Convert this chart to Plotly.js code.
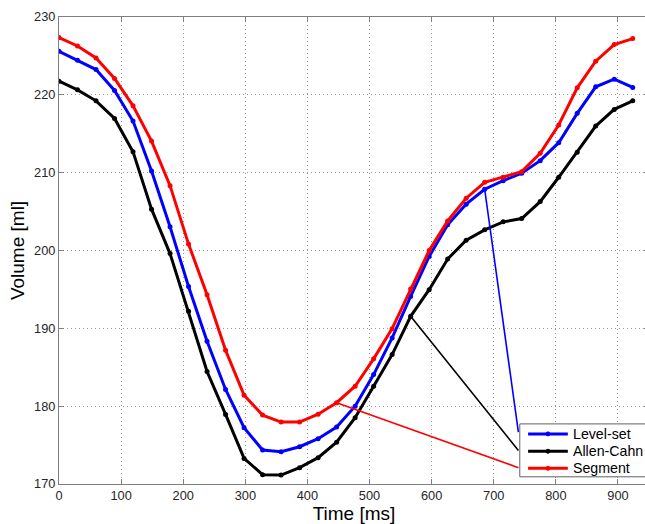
<!DOCTYPE html>
<html>
<head>
<meta charset="utf-8">
<script src="https://cdn.plot.ly/plotly-3.0.1.min.js"></script>
<style>
html, body { margin: 0; padding: 0; overflow: hidden; background: #fff; }
#chart { width: 660px; height: 524px; }
</style>
</head>
<body>
<div id="chart"></div>
<script>
// Time axis (ms)
var timeMs = [0, 29.8, 59.6, 89.4, 119.2, 149, 178.8, 208.6, 238.4, 268.2, 298, 327.8,
  357.6, 387.4, 417.2, 447, 476.8, 506.6, 536.4, 566.2, 596, 625.8, 655.6, 685.4,
  715.2, 745, 774.8, 804.6, 834.4, 864.2, 894, 923.8];

// Volumes (ml)
var levelSet = [225.6, 224.45, 223.25, 220.56, 216.63, 210.22, 203.04, 195.38, 188.33, 182.14,
  177.23, 174.36, 174.15, 174.79, 175.82, 177.31, 180.0, 184.06, 188.77, 194.1,
  199.23, 203.3, 205.95, 207.87, 208.97, 209.92, 211.54, 213.85, 217.62, 221.03,
  222.01, 220.95];
var allenCahn = [221.76, 220.64, 219.23, 216.97, 212.69, 205.31, 199.6, 192.18, 184.45, 178.94,
  173.29, 171.2, 171.15, 172.1, 173.38, 175.38, 178.51, 182.56, 186.63, 191.54,
  194.96, 198.9, 201.33, 202.65, 203.68, 204.1, 206.28, 209.41, 212.62, 215.99,
  218.13, 219.23];
var segment = [227.36, 226.28, 224.74, 222.1, 218.59, 214.06, 208.33, 200.82, 194.32, 187.18,
  181.41, 178.85, 177.95, 177.95, 178.97, 180.44, 182.56, 186.08, 189.96, 195.05,
  200.0, 203.8, 206.72, 208.77, 209.41, 210.13, 212.49, 216.12, 220.9, 224.32,
  226.46, 227.23];

var seriesNames = ["Level-set", "Allen-Cahn", "Segment"];
var seriesColors = ["#0000ff", "#000000", "#ff0000"];
var seriesData = [levelSet, allenCahn, segment];

// Connector lines from a data point to the legend box
var connectorIndex = [23, 19, 15];
var connectorEndX = 739.7;
var connectorEndY = [176.67, 174.32, 172.1];

var xTicks = [0, 100, 200, 300, 400, 500, 600, 700, 800, 900];
var yTicks = [170, 180, 190, 200, 210, 220, 230];

// Plot geometry (px) used to place the hand-drawn legend
var PL = 59.3, PR = 648.8, PT = 16.7, PB = 484.5;
function px2x(px) { return (px - PL) / (PR - PL); }
function px2y(py) { return (PB - py) / (PB - PT); }

var FONT = "Liberation Sans, Arial, Helvetica, sans-serif";

var traces = seriesData.map(function (ys, i) {
  return {
    x: timeMs, y: ys, name: seriesNames[i], type: "scatter", mode: "lines+markers",
    line: { color: seriesColors[i], width: 3 },
    marker: { color: seriesColors[i], size: 5 },
    showlegend: false
  };
});

var shapes = seriesData.map(function (ys, i) {
  var k = connectorIndex[i];
  return {
    type: "line", xref: "x", yref: "y",
    x0: timeMs[k], y0: ys[k], x1: connectorEndX, y1: connectorEndY[i],
    line: { color: seriesColors[i], width: 1.6 }, layer: "above"
  };
});

// Legend box
var legLeft = 519.7, legTop = 424.3, legBottom = 477.3, legRight = 660;
var legRowY = [434.3, 451.7, 468.8];
shapes.push({
  type: "rect", xref: "paper", yref: "paper",
  x0: px2x(legLeft), x1: px2x(legRight), y0: px2y(legBottom), y1: px2y(legTop),
  fillcolor: "#ffffff", line: { color: "#606060", width: 1 }, layer: "above"
});
var annotations = [];
seriesNames.forEach(function (name, i) {
  shapes.push({
    type: "line", xref: "paper", yref: "paper",
    x0: px2x(528), x1: px2x(567.7), y0: px2y(legRowY[i]), y1: px2y(legRowY[i]),
    line: { color: seriesColors[i], width: 3 }, layer: "above"
  });
  shapes.push({
    type: "circle", xref: "paper", yref: "paper",
    x0: px2x(545.8), x1: px2x(549.8), y0: px2y(legRowY[i] + 2), y1: px2y(legRowY[i] - 2),
    fillcolor: seriesColors[i], line: { color: seriesColors[i], width: 1 }, layer: "above"
  });
  annotations.push({
    xref: "paper", yref: "paper", x: px2x(570.5), y: px2y(legRowY[i]),
    xanchor: "left", yanchor: "middle", showarrow: false, text: name,
    font: { family: FONT, size: 14.2, color: "#000" }
  });
});

var axisCommon = {
  showline: true, mirror: "ticks", linecolor: "#7f7f7f", linewidth: 1,
  ticks: "inside", ticklen: 5, tickcolor: "#7f7f7f",
  showgrid: true, gridcolor: "#9a9a9a", griddash: "1px,3px", gridwidth: 1,
  zeroline: false,
  tickfont: { family: FONT, size: 12.8, color: "#262626" }
};

var layout = {
  width: 660, height: 524,
  margin: { l: PL, r: 660 - PR, t: PT, b: 524 - PB },
  paper_bgcolor: "#ffffff", plot_bgcolor: "#ffffff",
  showlegend: false,
  xaxis: Object.assign({}, axisCommon, {
    range: [0, 950], tickvals: xTicks, ticktext: xTicks.map(String),
    title: { text: "Time [ms]", standoff: 6,
      font: { family: FONT, size: 19, color: "#000" } }
  }),
  yaxis: Object.assign({}, axisCommon, {
    range: [170, 230], tickvals: yTicks, ticktext: yTicks.map(String),
    title: { text: "Volume [ml]", standoff: 4,
      font: { family: FONT, size: 19, color: "#000" } }
  }),
  shapes: shapes,
  annotations: annotations
};

Plotly.newPlot("chart", traces, layout, { displayModeBar: false, staticPlot: true });
</script>
</body>
</html>
